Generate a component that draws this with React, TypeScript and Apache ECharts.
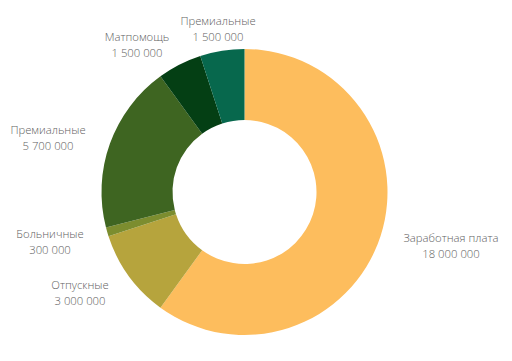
import React, { useEffect, useRef } from "react";
import * as echarts from "echarts";

const categories = ["Заработная плата", "Отпускные", "Больничные", "Премиальные", "Матпомощь", "Премиальные"];
const values = [18000000, 3000000, 300000, 5700000, 1500000, 1500000];
const colors = ["#FDBD5D", "#B6A43D", "#7C8D2F", "#3E6521", "#043F14", "#07684D"];
// label block centres (px) for each slice
const labelCenters: [number, number][] = [
  [451, 245],
  [80, 292],
  [50, 241],
  [48, 137],
  [137, 44],
  [218, 28],
];

const fmt = (v: number) => String(v).replace(/\B(?=(\d{3})+(?!\d))/g, " ");

export default function App() {
  const ref = useRef<HTMLDivElement>(null);
  useEffect(() => {
    document.body.style.margin = "0";
    const chart = echarts.init(ref.current!, null, { renderer: "svg" });
    chart.setOption({
      animation: false,
      backgroundColor: "#ffffff",
      series: [
        {
          type: "pie",
          center: [244.5, 192],
          radius: [72, 143],
          startAngle: 90,
          clockwise: true,
          avoidLabelOverlap: false,
          data: categories.map((c, i) => ({
            name: c,
            value: values[i],
            itemStyle: { color: colors[i] },
          })),
          label: {
            show: true,
            position: "outside",
            formatter: (p: any) => `${p.name}\n${fmt(p.value)}`,
            fontFamily: "Open Sans",
            fontWeight: 300,
            fontSize: 11.3,
            lineHeight: 16,
            color: "#616161",
            align: "center",
          },
          labelLine: { show: false },
          labelLayout: (p: any) => ({
            x: labelCenters[p.dataIndex][0],
            y: labelCenters[p.dataIndex][1],
            align: "center",
            verticalAlign: "middle",
          }),
          emphasis: { disabled: true },
        },
      ],
    });
    return () => chart.dispose();
  }, []);
  return <div ref={ref} style={{ width: 512, height: 361 }} />;
}
